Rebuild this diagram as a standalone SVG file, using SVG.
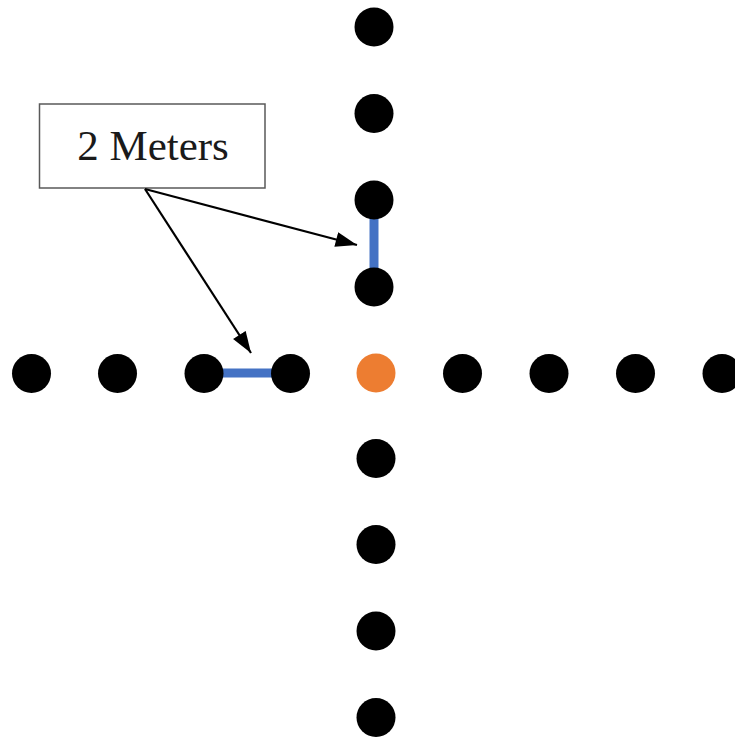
<svg xmlns="http://www.w3.org/2000/svg" width="735" height="738" viewBox="0 0 735 738">
<style>
.dot{fill:#000}
.origin{fill:#ED7D31}
.seg{stroke:#4472C4;stroke-width:9;fill:none}
.conn{stroke:#000;stroke-width:2.2;fill:none}
.label{fill:#fff;stroke:#595959;stroke-width:1.5}
.txt{font-family:"Liberation Serif",serif;font-size:43px;fill:#1a1a1a}
</style>
<defs>
<marker id="arrow" viewBox="0 0 20 14" refX="20" refY="7" markerWidth="22" markerHeight="15" markerUnits="userSpaceOnUse" orient="auto">
<path d="M0,0 L20,7 L0,14 z" fill="#000"/>
</marker>
</defs>
<rect width="735" height="738" fill="#fff"/>
<g id="segments">
<line class="seg" x1="374" y1="205" x2="374" y2="284"/>
<line class="seg" x1="208" y1="373" x2="286" y2="373"/>
</g>
<g id="dots-vertical">
<circle id="v1" class="dot" cx="374" cy="27" r="19.5"/>
<circle id="v2" class="dot" cx="374" cy="113.5" r="19.5"/>
<circle id="v3" class="dot" cx="374" cy="200" r="19.5"/>
<circle id="v4" class="dot" cx="374" cy="287" r="19.5"/>
<circle id="v6" class="dot" cx="376" cy="458.5" r="19.5"/>
<circle id="v7" class="dot" cx="376" cy="544.5" r="19.5"/>
<circle id="v8" class="dot" cx="376" cy="631" r="19.5"/>
<circle id="v9" class="dot" cx="376" cy="717.5" r="19.5"/>
</g>
<g id="dots-horizontal">
<circle id="h1" class="dot" cx="31.5" cy="373.5" r="19.5"/>
<circle id="h2" class="dot" cx="117.5" cy="373.5" r="19.5"/>
<circle id="h3" class="dot" cx="204" cy="373.5" r="19.5"/>
<circle id="h4" class="dot" cx="290.5" cy="373.5" r="19.5"/>
<circle id="h6" class="dot" cx="462.5" cy="373.5" r="19.5"/>
<circle id="h7" class="dot" cx="549" cy="373.5" r="19.5"/>
<circle id="h8" class="dot" cx="635.5" cy="373.5" r="19.5"/>
<circle id="h9" class="dot" cx="722" cy="373.5" r="19.5"/>
</g>
<g id="origin">
<circle class="origin" cx="376" cy="373" r="19.5"/>
</g>
<g id="label">
<rect class="label" x="39.5" y="104" width="225.5" height="84"/>
<text class="txt" x="153" y="160" text-anchor="middle">2 Meters</text>
</g>
<g id="connectors">
<line class="conn" x1="145" y1="189" x2="357" y2="245" marker-end="url(#arrow)"/>
<line class="conn" x1="145" y1="189" x2="251" y2="353" marker-end="url(#arrow)"/>
</g>
</svg>
